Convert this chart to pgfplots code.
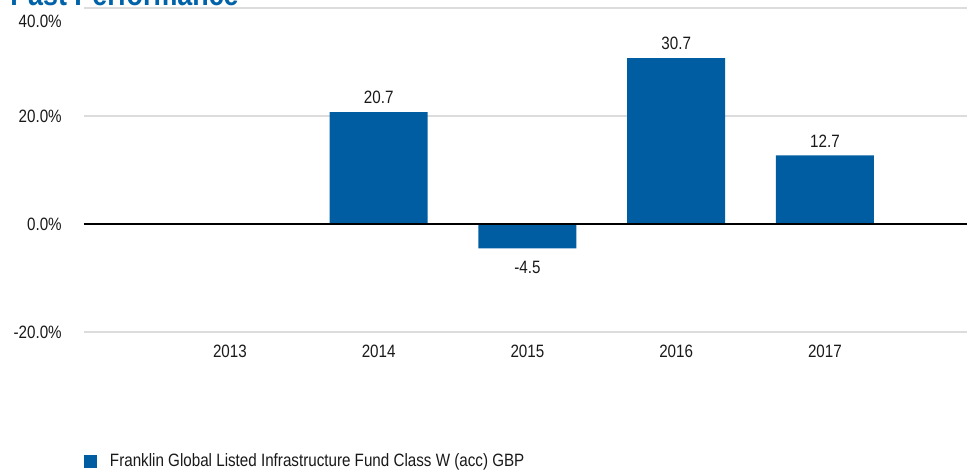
\documentclass[border=0pt]{standalone}
\usepackage{pgfplots}
\pgfplotsset{compat=1.18}
\usepackage{fontspec}
\setmainfont{Liberation Sans}[FakeStretch=0.85]
\definecolor{barblue}{RGB}{0,93,162}
\definecolor{titleblue}{RGB}{0,98,168}
\definecolor{gridgray}{RGB}{220,220,220}
\definecolor{txt}{RGB}{25,25,25}
\newcommand\cf{\fontsize{13.4pt}{15pt}\selectfont}
\begin{document}
\begin{tikzpicture}[x=0.75pt,y=0.75pt]
\useasboundingbox (0,0) rectangle (967,469);
\node[anchor=base west, inner sep=0pt, text=titleblue, font=\fontsize{23.7pt}{26pt}\selectfont\bfseries] at (10,464) {Past Performance};
\begin{axis}[
  at={(63pt,102.75pt)}, anchor=south west,
  scale only axis, width=662.25pt, height=243pt,
  xmin=-0.981, xmax=4.955, ymin=-20, ymax=40,
  axis line style={draw=none}, major tick length=0pt,
  xtick={0,1,2,3,4}, xticklabels={2013,2014,2015,2016,2017},
  ytick={-20,0,20}, yticklabels={-20.0\%,0.0\%,20.0\%},
  extra y ticks={40}, extra y tick labels={40.0\%},
  extra y tick style={yticklabel style={yshift=-10pt}, grid=major},
  ymajorgrids, grid style={gridgray, line width=1.1pt},
  tick label style={font=\cf, text=txt, inner sep=0pt},
  yticklabel style={anchor=east, xshift=-16.5pt},
  xticklabel style={anchor=north, yshift=-9.75pt},
  legend style={draw=none, fill=none, inner sep=0pt, outer sep=0pt,
    at={(0,0)}, anchor=west, yshift=-96.75pt, font=\cf, text=txt,
    nodes={inner sep=0pt}, column sep=9.75pt},
  legend image code/.code={\fill[barblue] (0pt,-4.875pt) rectangle (9.75pt,4.875pt);},
]
\addplot[ybar, bar width=73.5pt, fill=barblue, draw=none,
  point meta=explicit symbolic,
  nodes near coords,
  visualization depends on={y \as \rawy},
  every node near coord/.append style={font=\cf, text=txt, inner sep=0pt, anchor=south,
    yshift={ifthenelse(\rawy>0,6,-19.4)}}]
  coordinates {(1,20.7) [20.7] (2,-4.5) [-4.5] (3,30.7) [30.7] (4,12.7) [12.7]};
\addlegendentry{Franklin Global Listed Infrastructure Fund Class W (acc) GBP}
\draw[black, line width=1.1pt] (axis cs:-0.981,0) -- (axis cs:4.955,0);
\end{axis}
\end{tikzpicture}
\end{document}
